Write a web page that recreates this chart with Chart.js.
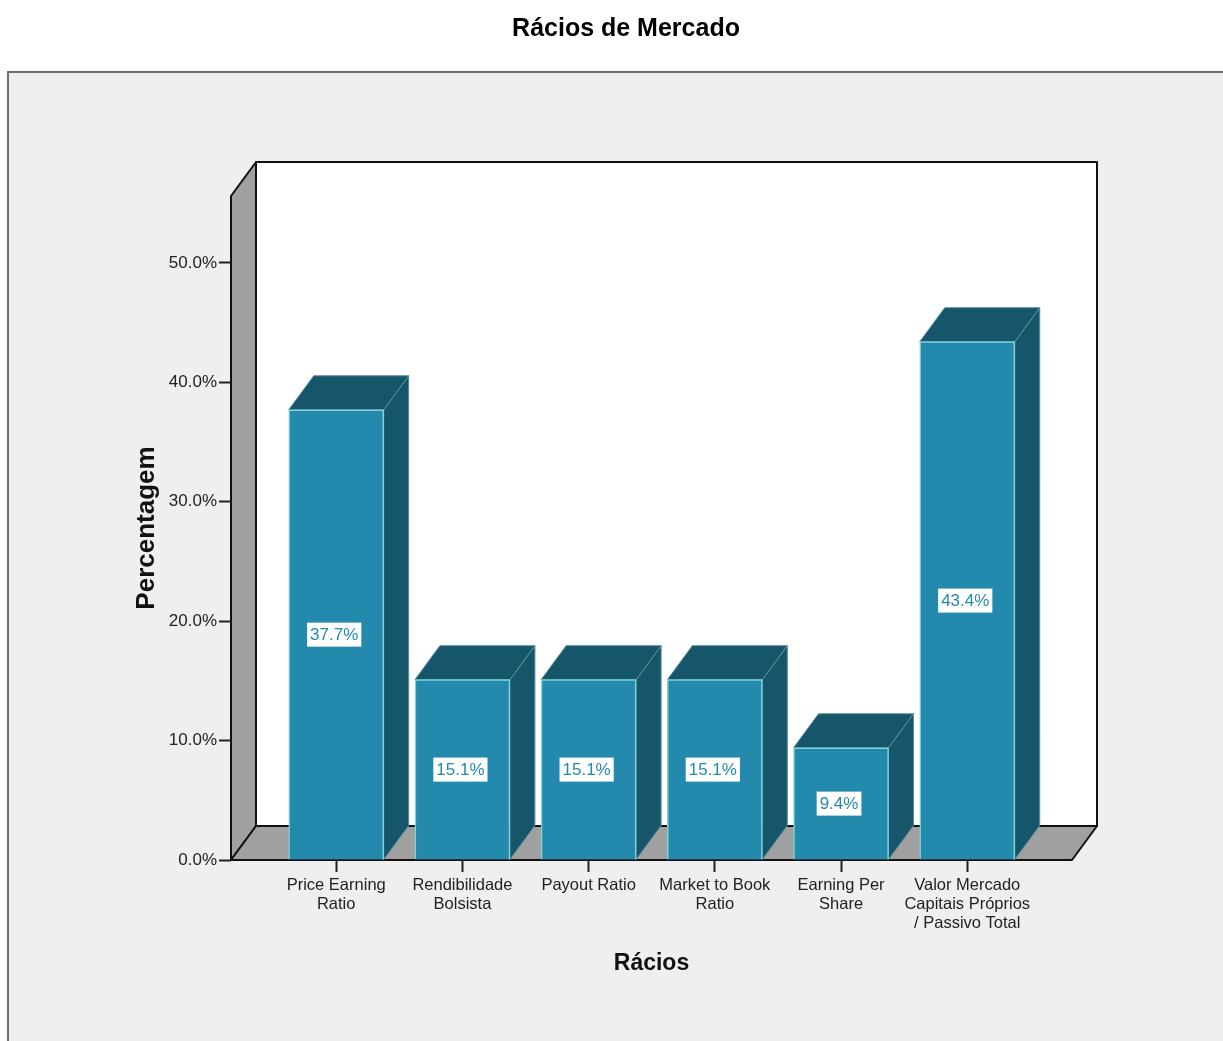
<!DOCTYPE html>
<html>
<head>
<meta charset="utf-8">
<title>Rácios de Mercado</title>
<script src="https://cdn.jsdelivr.net/npm/chart.js@4"></script>
<style>
  html, body { margin: 0; padding: 0; background: #fff; }
  canvas { display: block; }
</style>
</head>
<body>
<canvas id="myChart" width="1223" height="1041"></canvas>
<script>
const categories = [
  ['Price Earning', 'Ratio'],
  ['Rendibilidade', 'Bolsista'],
  ['Payout Ratio'],
  ['Market to Book', 'Ratio'],
  ['Earning Per', 'Share'],
  ['Valor Mercado', 'Capitais Próprios', '/ Passivo Total']
];
const percentages = [37.7, 15.1, 15.1, 15.1, 9.4, 43.4];

const DEPTH_X = 25;
const DEPTH_Y = 34;
const FONT = '"Liberation Sans", Arial, sans-serif';

function poly(ctx, pts, fill, stroke, lw) {
  ctx.beginPath();
  pts.forEach((p, i) => i ? ctx.lineTo(p[0], p[1]) : ctx.moveTo(p[0], p[1]));
  ctx.closePath();
  if (fill) { ctx.fillStyle = fill; ctx.fill(); }
  if (stroke) { ctx.strokeStyle = stroke; ctx.lineWidth = lw; ctx.stroke(); }
}

const box3d = {
  id: 'box3d',
  afterLayout(chart) {
    // the title sits centred on the picture's own frame, not on the chart area
    chart.titleBlock.left = 29;
    chart.titleBlock.right = 1223;
  },
  beforeDraw(chart) {
    const ctx = chart.ctx;
    ctx.save();
    ctx.fillStyle = '#efefef';
    ctx.fillRect(8, 72, 1215, 969);
    ctx.fillStyle = '#6e6e6e';
    ctx.fillRect(7, 71, 1216, 2);
    ctx.fillRect(7, 71, 2, 970);
    ctx.restore();
  },
  beforeDatasetsDraw(chart) {
    const ctx = chart.ctx;
    const a = chart.chartArea;
    const l = a.left, r = a.right, t = a.top, b = a.bottom;
    const dx = DEPTH_X, dy = DEPTH_Y;
    ctx.save();
    ctx.lineJoin = 'round';
    // back wall
    poly(ctx, [[l + dx, t - dy], [r + dx, t - dy], [r + dx, b - dy], [l + dx, b - dy]], '#ffffff', '#111', 2);
    // side wall and floor
    poly(ctx, [[l, b], [l, t], [l + dx, t - dy], [l + dx, b - dy]], '#a0a0a0', '#111', 2);
    poly(ctx, [[l, b], [r, b], [r + dx, b - dy], [l + dx, b - dy]], '#a0a0a0', '#111', 2);
    // bar sides and tops
    chart.getDatasetMeta(0).data.forEach(bar => {
      const x1 = bar.x - bar.width / 2, x2 = bar.x + bar.width / 2;
      poly(ctx, [[x2, bar.y], [x2, bar.base], [x2 + dx, bar.base - dy], [x2 + dx, bar.y - dy]], '#16566a', '#5d8f9b', 1);
      poly(ctx, [[x1, bar.y], [x2, bar.y], [x2 + dx, bar.y - dy], [x1 + dx, bar.y - dy]], '#16566a', '#5d8f9b', 1);
    });
    ctx.restore();
  },
  afterDatasetsDraw(chart) {
    const ctx = chart.ctx;
    ctx.save();
    ctx.font = '17px ' + FONT;
    ctx.textAlign = 'center';
    ctx.textBaseline = 'middle';
    chart.getDatasetMeta(0).data.forEach((bar, i) => {
      const txt = percentages[i].toFixed(1) + '%';
      const w = ctx.measureText(txt).width + 6;
      const cy = (bar.y + bar.base) / 2;
      const cx = bar.x - 2;
      ctx.fillStyle = '#ffffff';
      ctx.fillRect(cx - w / 2, cy - 12, w, 24);
      ctx.fillStyle = '#248aad';
      ctx.fillText(txt, cx, cy + 1);
    });
    ctx.restore();
  }
};

new Chart(document.getElementById('myChart'), {
  type: 'bar',
  data: {
    datasets: [{
      data: percentages.map((v, i) => ({ x: i, y: v })),
      backgroundColor: '#248aad',
      borderColor: '#7fd3da',
      borderWidth: 1.5,
      barThickness: 95
    }]
  },
  options: {
    responsive: false,
    animation: false,
    layout: { padding: { right: 151 } },
    plugins: {
      legend: { display: false },
      tooltip: { enabled: false },
      title: {
        display: true,
        text: 'Rácios de Mercado',
        color: '#000',
        font: { family: FONT, size: 25, weight: 'bold', lineHeight: 1.2 },
        padding: { top: 14, bottom: 152 }
      }
    },
    scales: {
      x: {
        type: 'linear',
        offset: false,
        min: -0.8336,
        max: 5.83,
        afterFit: s => { s.height = 181; },
        afterBuildTicks: s => { s.ticks = categories.map((c, i) => ({ value: i })); },
        border: { display: false },
        grid: { offset: false, drawOnChartArea: false, tickLength: 12, tickWidth: 2, tickColor: '#222' },
        ticks: {
          autoSkip: false,
          maxRotation: 0,
          padding: 4,
          color: '#222',
          font: { family: FONT, size: 16.5, lineHeight: 1.15 },
          callback: v => categories[v]
        },
        title: {
          display: true,
          text: 'Rácios',
          color: '#111',
          font: { family: FONT, size: 23, weight: 'bold', lineHeight: 1.2 },
          padding: { top: 0, bottom: 64 }
        }
      },
      y: {
        min: 0,
        max: 55.6,
        afterFit: s => { s.width = 231; },
        border: { display: false },
        grid: { drawOnChartArea: false, tickLength: 12, tickWidth: 2, tickColor: '#222' },
        ticks: {
          stepSize: 10,
          includeBounds: false,
          padding: 2,
          color: '#222',
          font: { family: FONT, size: 17 },
          callback: v => v.toFixed(1) + '%'
        },
        title: {
          display: true,
          text: 'Percentagem',
          color: '#111',
          font: { family: FONT, size: 26, weight: 'bold', lineHeight: 1.2 },
          padding: { top: 131, bottom: 0 }
        }
      }
    }
  },
  plugins: [box3d]
});
</script>
</body>
</html>
